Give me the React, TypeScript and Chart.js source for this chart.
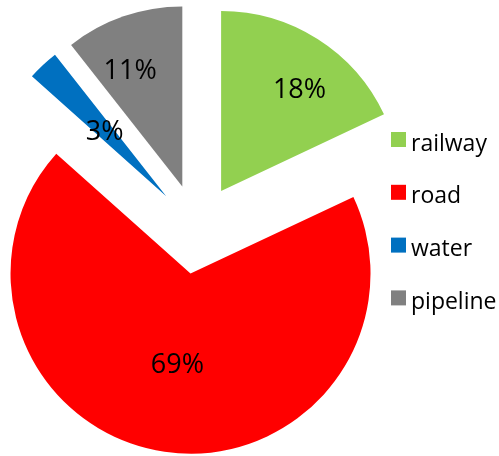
import React, { useEffect, useRef } from 'react';
import { Chart, registerables } from 'chart.js';

Chart.register(...registerables);

// ---- data ----
const categories = ['railway', 'road', 'water', 'pipeline'];
const shares = [18.0, 68.6, 2.8, 10.6];
const percentLabels = ['18%', '69%', '3%', '11%'];
const sliceColors = ['#92D050', '#FF0000', '#0070C0', '#808080'];

// ---- layout / style ----
const EXPLODE = 45;
const PIE_RADIUS = 180;
const LABEL_FONT = '27px "Open Sans"';
const LEGEND_FONT = '23px "Open Sans"';
const labelRadialFraction = [0.717, 0.505, 0.5, 0.71];
const labelAngleShiftDeg = [5, 0, 0, -5];
const LEGEND_BOX_X = 391;
const LEGEND_BOX_SIZE = 15;
const LEGEND_FIRST_CY = 139.5;
const LEGEND_STEP = 52.8;
const LEGEND_TEXT_X = 411;

const explodePlugin = {
  id: 'explodeSlices',
  beforeDatasetDraw(chart: any, args: any) {
    const ctx = chart.ctx;
    args.meta.data.forEach((arc: any) => {
      const mid = (arc.startAngle + arc.endAngle) / 2;
      ctx.save();
      ctx.translate(Math.cos(mid) * EXPLODE, Math.sin(mid) * EXPLODE);
      arc.draw(ctx, chart.chartArea);
      ctx.restore();
    });
    return false;
  },
};

const labelPlugin = {
  id: 'sliceLabels',
  afterDatasetsDraw(chart: any) {
    const ctx = chart.ctx;
    const meta = chart.getDatasetMeta(0);
    ctx.save();
    ctx.font = LABEL_FONT;
    ctx.fillStyle = '#000000';
    ctx.textAlign = 'center';
    ctx.textBaseline = 'alphabetic';
    meta.data.forEach((arc: any, i: number) => {
      const mid = (arc.startAngle + arc.endAngle) / 2;
      const ax = arc.x + Math.cos(mid) * EXPLODE;
      const ay = arc.y + Math.sin(mid) * EXPLODE;
      const a = mid + (labelAngleShiftDeg[i] * Math.PI) / 180;
      const d = arc.outerRadius * labelRadialFraction[i];
      const cx = ax + Math.cos(a) * d;
      const cy = ay + Math.sin(a) * d;
      ctx.fillText(percentLabels[i], cx, cy + 27 * 0.357);
    });
    ctx.restore();
  },
};

const legendPlugin = {
  id: 'rightLegend',
  afterDraw(chart: any) {
    const ctx = chart.ctx;
    const labels = chart.data.labels as string[];
    const colors = chart.data.datasets[0].backgroundColor as string[];
    ctx.save();
    ctx.font = LEGEND_FONT;
    ctx.textAlign = 'left';
    ctx.textBaseline = 'alphabetic';
    labels.forEach((lab, i) => {
      const cy = LEGEND_FIRST_CY + i * LEGEND_STEP;
      ctx.fillStyle = colors[i];
      ctx.fillRect(LEGEND_BOX_X, cy - LEGEND_BOX_SIZE / 2, LEGEND_BOX_SIZE, LEGEND_BOX_SIZE);
      ctx.fillStyle = '#000000';
      ctx.fillText(lab, LEGEND_TEXT_X, cy + 11);
    });
    ctx.restore();
  },
};

export default function App() {
  const canvasRef = useRef<HTMLCanvasElement | null>(null);

  useEffect(() => {
    if (!canvasRef.current) return;
    const chart = new Chart(canvasRef.current, {
      type: 'pie',
      data: {
        labels: categories,
        datasets: [
          {
            data: shares,
            backgroundColor: sliceColors,
            borderWidth: 0,
          },
        ],
      },
      options: {
        animation: false,
        responsive: true,
        maintainAspectRatio: false,
        radius: PIE_RADIUS,
        layout: { padding: { left: 0, right: 105, top: 2, bottom: 0 } },
        plugins: {
          legend: { display: false },
          tooltip: { enabled: false },
        },
        events: [],
      } as any,
      plugins: [explodePlugin, labelPlugin, legendPlugin],
    });
    return () => chart.destroy();
  }, []);

  return (
    <div style={{ position: 'absolute', left: 0, top: 0, width: 499, height: 456, background: '#ffffff' }}>
      <canvas ref={canvasRef} />
    </div>
  );
}
